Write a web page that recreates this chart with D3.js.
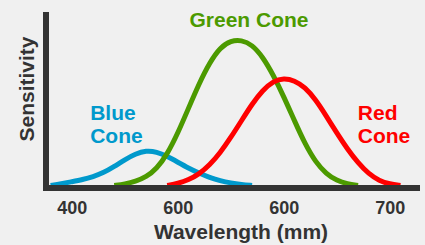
<!DOCTYPE html>
<html>
<head>
<meta charset="utf-8">
<script src="https://cdn.jsdelivr.net/npm/d3@7"></script>
<style>
  html, body { margin: 0; padding: 0; background: #f0f0f0; }
  svg { display: block; }
  text { font-family: "Liberation Sans", Arial, sans-serif; font-weight: bold; }
</style>
</head>
<body>
<svg id="chart" width="425" height="245"></svg>
<script>
// ---- data ----
const blueWl   = [380, 390, 400, 410, 420, 430, 440, 450, 460, 470, 480, 490, 500, 510, 520, 530, 540, 550, 560, 570];
const blueS    = [0.0, 0.012, 0.026, 0.04, 0.06, 0.088, 0.13, 0.178, 0.218, 0.24, 0.232, 0.2, 0.16, 0.12, 0.085, 0.055, 0.032, 0.017, 0.007, 0.0];

const greenWl  = [440, 450, 460, 470, 480, 490, 500, 510, 520, 530, 540, 550, 560, 570, 580, 590, 600, 610, 620, 630, 640, 650, 660, 670];
const greenS   = [0.0, 0.01, 0.028, 0.058, 0.115, 0.215, 0.36, 0.53, 0.70, 0.845, 0.95, 0.995, 1.0, 0.968, 0.885, 0.76, 0.61, 0.445, 0.285, 0.16, 0.08, 0.033, 0.01, 0.0];

const redWl    = [490, 500, 510, 520, 530, 540, 550, 560, 570, 580, 590, 600, 610, 620, 630, 640, 650, 660, 670, 680, 690, 700, 710];
const redS     = [0.0, 0.014, 0.038, 0.078, 0.14, 0.225, 0.33, 0.445, 0.56, 0.655, 0.718, 0.738, 0.722, 0.675, 0.59, 0.478, 0.36, 0.25, 0.155, 0.08, 0.032, 0.01, 0.0];

const tickValues = [400, 500, 600, 700];
const tickLabels = ["400", "600", "600", "700"];

const seriesNames  = ["Blue", "Green", "Red"];
const seriesColors = ["#0099cc", "#4c9a00", "#ff0000"];

// ---- layout ----
const svg = d3.select("#chart");
const frame = { left: 43, right: 420, top: 12, bottom: 191, axisW: 6 };

const x = d3.scaleLinear().domain([400, 700]).range([71.85, 389.85]);
const y = d3.scaleLinear().domain([0, 1]).range([185.5, 40]);

const series = [
  { name: "Blue",  wl: blueWl,  s: blueS,  color: seriesColors[0] },
  { name: "Green", wl: greenWl, s: greenS, color: seriesColors[1] },
  { name: "Red",   wl: redWl,   s: redS,   color: seriesColors[2] }
];

const line = d3.line()
  .x(d => x(d[0]))
  .y(d => y(d[1]))
  .curve(d3.curveBasis);

svg.append("g").selectAll("path")
  .data(series)
  .join("path")
  .attr("d", d => line(d.wl.map((w, i) => [w, d.s[i]])))
  .attr("fill", "none")
  .attr("stroke", d => d.color)
  .attr("stroke-width", 5)
  .attr("stroke-linejoin", "round");

// ---- axes ----
const axisColor = "#333333";
svg.append("line")
  .attr("x1", frame.left + frame.axisW / 2).attr("x2", frame.left + frame.axisW / 2)
  .attr("y1", frame.top).attr("y2", frame.bottom)
  .attr("stroke", axisColor).attr("stroke-width", frame.axisW);
svg.append("line")
  .attr("x1", frame.left).attr("x2", frame.right)
  .attr("y1", frame.bottom - frame.axisW / 2).attr("y2", frame.bottom - frame.axisW / 2)
  .attr("stroke", axisColor).attr("stroke-width", frame.axisW);

const xAxis = d3.axisBottom(x)
  .tickValues(tickValues)
  .tickFormat((d, i) => tickLabels[i])
  .tickSize(0)
  .tickPadding(0);
const gx = svg.append("g").attr("transform", "translate(0,201.5)").call(xAxis);
gx.select(".domain").remove();
gx.selectAll("text")
  .attr("fill", axisColor)
  .attr("font-size", 18)
  .attr("font-family", "Liberation Sans, Arial, sans-serif")
  .attr("font-weight", "bold")
  .attr("dy", "0.71em");

svg.append("text")
  .attr("x", 241).attr("y", 239.3)
  .attr("text-anchor", "middle")
  .attr("font-size", 21)
  .attr("fill", axisColor)
  .text("Wavelength (mm)");

svg.append("text")
  .attr("transform", "translate(33.5,89) rotate(-90)")
  .attr("text-anchor", "middle")
  .attr("font-size", 21)
  .attr("fill", axisColor)
  .text("Sensitivity");

const labels = [
  { lines: ["Blue", "Cone"], x: 90.2, y: 120, anchor: "start", color: seriesColors[0] },
  { lines: ["Green Cone"], x: 249, y: 26.7, anchor: "middle", color: seriesColors[1] },
  { lines: ["Red", "Cone"], x: 357.8, y: 120, anchor: "start", color: seriesColors[2] }
];
labels.forEach(l => {
  const t = svg.append("text")
    .attr("x", l.x).attr("y", l.y)
    .attr("text-anchor", l.anchor)
    .attr("font-size", 21)
    .attr("fill", l.color);
  l.lines.forEach((s, i) => {
    t.append("tspan").attr("x", l.x).attr("dy", i === 0 ? 0 : 23.3).text(s);
  });
});
</script>
</body>
</html>
